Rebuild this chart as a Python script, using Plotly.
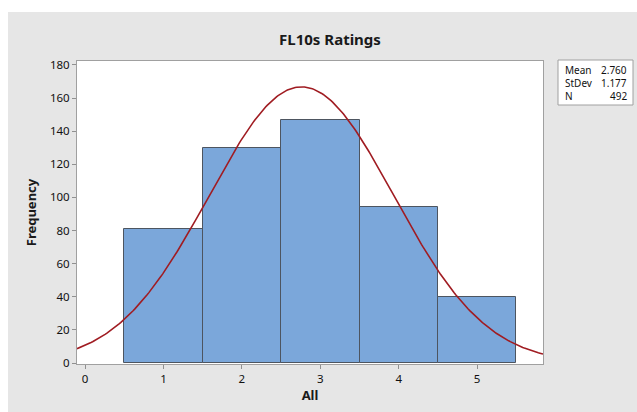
import numpy as np
import plotly.graph_objects as go

# Data
ratings = [1, 2, 3, 4, 5]
counts = [81, 130, 147, 94, 40]
mean = 2.760
stdev = 1.177
n_total = 492
bin_width = 1.0
y_ticks = [0, 20, 40, 60, 80, 100, 120, 140, 160, 180]
x_ticks = [0, 1, 2, 3, 4, 5]
stat_labels = ["Mean", "StDev", "N"]
stat_values = ["2.760", "1.177", "492"]

W, H = 637, 412
ML, MR, MT, MB = 77, 94, 61, 48
PW, PH = W - ML - MR, H - MT - MB

def px_x(p):
    return (p - ML) / PW

def px_y(p):
    return (H - MB - p) / PH

xr = [-0.103, 5.84]
xs = np.linspace(xr[0], xr[1], 300)
ys = n_total * bin_width * np.exp(-0.5 * ((xs - mean) / stdev) ** 2) / (stdev * np.sqrt(2 * np.pi))

FONT = "Noto Sans, Open Sans, sans-serif"

fig = go.Figure()
fig.add_trace(go.Bar(
    x=ratings, y=counts, width=1.0,
    marker=dict(color="#7BA7DA", line=dict(color="#4d5560", width=1)),
    hoverinfo="x+y",
))
fig.add_trace(go.Scatter(
    x=xs, y=ys, mode="lines",
    line=dict(color="#A01C22", width=1.6), hoverinfo="skip",
))

shapes = [
    # gray page background (white strip at top and left)
    dict(type="rect", xref="paper", yref="paper", x0=px_x(8), x1=px_x(W + 5),
         y0=px_y(H + 5), y1=px_y(12), fillcolor="#E6E6E6", line=dict(width=0), layer="below"),
    # white plot area
    dict(type="rect", xref="paper", yref="paper", x0=0, x1=1, y0=0, y1=1,
         fillcolor="white", line=dict(width=0), layer="below"),
    # stats box
    dict(type="rect", xref="paper", yref="paper", x0=px_x(558), x1=px_x(633),
         y0=px_y(105), y1=px_y(60), fillcolor="white",
         line=dict(color="#a0a0a0", width=1), layer="above"),
]

annotations = []
row_y = [70, 83, 96]
for lab, val, yy in zip(stat_labels, stat_values, row_y):
    annotations.append(dict(xref="paper", yref="paper", x=px_x(563), y=px_y(yy),
                            text=lab, showarrow=False, xanchor="left", yanchor="middle",
                            font=dict(family=FONT, size=10, color="#111")))
    annotations.append(dict(xref="paper", yref="paper", x=px_x(629), y=px_y(yy),
                            text=val, showarrow=False, xanchor="right", yanchor="middle",
                            font=dict(family=FONT, size=10, color="#111")))

fig.update_layout(
    width=W, height=H,
    margin=dict(l=ML, r=MR, t=MT, b=MB, pad=0),
    paper_bgcolor="white",
    plot_bgcolor="rgba(0,0,0,0)",
    showlegend=False,
    bargap=0,
    title=dict(text="<b>FL10s Ratings</b>", x=px_x(330), xanchor="center",
               xref="paper", y=1 - 40 / H, yanchor="middle",
               font=dict(family=FONT, size=15, color="#1a1a1a")),
    font=dict(family=FONT, size=12, color="#1a1a1a"),
    shapes=shapes,
    annotations=annotations,
    xaxis=dict(range=xr, tickvals=x_ticks, ticks="outside", ticklen=4,
               tickcolor="#909090", showgrid=False, zeroline=False,
               showline=True, linecolor="#a0a0a0", linewidth=1, mirror=True,
               tickfont=dict(family=FONT, size=11.5, color="#111"),
               title=dict(text="<b>All</b>", standoff=6,
                          font=dict(family=FONT, size=13, color="#1a1a1a"))),
    yaxis=dict(range=[-0.6, 182.4], tickvals=y_ticks, ticks="outside", ticklen=4,
               tickcolor="#909090", showgrid=False, zeroline=False,
               showline=True, linecolor="#a0a0a0", linewidth=1, mirror=True,
               tickfont=dict(family=FONT, size=11.5, color="#111"),
               title=dict(text="<b>Frequency</b>", standoff=10,
                          font=dict(family=FONT, size=13, color="#1a1a1a"))),
)

fig.write_html("out.html", config={"displayModeBar": False},
               post_script="document.body.style.margin='0';document.body.style.overflow='hidden';")
